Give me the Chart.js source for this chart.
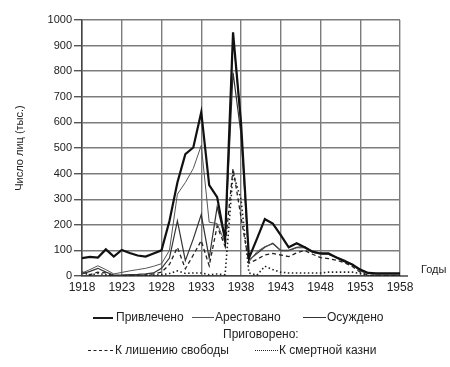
<!DOCTYPE html>
<html>
<head>
<meta charset="utf-8">
<script src="https://cdn.jsdelivr.net/npm/chart.js@4/dist/chart.umd.min.js"></script>
<style>
  html, body { margin: 0; padding: 0; background: #fff; }
  #wrap { position: relative; width: 450px; height: 367px; font-family: "Liberation Sans", Arial, sans-serif; color: #222; }
  #chart { position: absolute; left: 0; top: 0; }
  .lbl { position: absolute; font-size: 12px; line-height: 14px; white-space: nowrap; }
  .smp { position: absolute; height: 0; }
</style>
</head>
<body>
<div id="wrap">
  <canvas id="chart" width="450" height="367"></canvas>
  <div class="lbl" style="left:421px; top:262px; font-size:11px;">Годы</div>

  <div class="smp" style="left:93px; top:317px; width:20px; border-top:2px solid #1a1a1a;"></div>
  <div class="lbl" style="left:116px; top:310px;">Привлечено</div>
  <div class="smp" style="left:192px; top:317px; width:22px; border-top:1px solid #555;"></div>
  <div class="lbl" style="left:215px; top:310px;">Арестовано</div>
  <div class="smp" style="left:303px; top:317px; width:23px; border-top:1px solid #333;"></div>
  <div class="lbl" style="left:327px; top:310px;">Осуждено</div>

  <div class="lbl" style="left:223px; top:327px;">Приговорено:</div>

  <div class="smp" style="left:88px; top:350px; width:25px; border-top:1px dashed #222;"></div>
  <div class="lbl" style="left:115px; top:343px;">К лишению свободы</div>
  <div class="smp" style="left:255px; top:350px; width:23px; border-top:1.5px dotted #222;"></div>
  <div class="lbl" style="left:279px; top:343px;">К смертной казни</div>
</div>
<script>
// Years on the x axis
const years = [1918, 1919, 1920, 1921, 1922, 1923, 1924, 1925, 1926, 1927,
               1928, 1929, 1930, 1931, 1932, 1933, 1934, 1935, 1936, 1937,
               1938, 1939, 1940, 1941, 1942, 1943, 1944, 1945, 1946, 1947,
               1948, 1949, 1950, 1951, 1952, 1953, 1954, 1955, 1956, 1957, 1958];
const xTickYears = [1918, 1923, 1928, 1933, 1938, 1943, 1948, 1953, 1958];
const yTickValues = [0, 100, 200, 300, 400, 500, 600, 700, 800, 900, 1000];

// thousands of persons
const privlecheno = [70, 75, 72, 104, 76, 102, 90, 80, 76, 88,
                     100, 215, 365, 476, 502, 640, 355, 308, 140, 952,
                     600, 70, 145, 222, 205, 160, 112, 128, 112, 95,
                     88, 88, 72, 58, 45, 25, 12, 10, 10, 10, 10];
const arestovano = [12, 25, 40, 25, 8, 14, 20, 25, 30, 38,
                    48, 100, 320, 365, 420, 510, 210, 205, 130, 940,
                    590, 55, 95, 115, 125, 98, 98, 110, 110, 92,
                    85, 84, 72, 60, 42, 20, 10, 8, 8, 8, 8];
const osuzhdeno = [8, 18, 30, 15, 4, 4, 5, 6, 8, 12,
                   30, 70, 215, 60, 145, 240, 70, 270, 145, 795,
                   555, 62, 88, 112, 128, 100, 100, 112, 115, 95,
                   88, 85, 74, 62, 45, 20, 10, 8, 8, 8, 8];
const lishenieSvobody = [15, 5, 15, 12, 0, 2, 3, 4, 5, 8,
                         15, 45, 112, 28, 82, 138, 40, 195, 115, 420,
                         230, 50, 65, 82, 88, 82, 76, 90, 100, 85,
                         72, 68, 62, 52, 37, 15, 3, 2, 1, 1, 1];
const smertnayaKazn = [15, 3, 10, 5, 1, 1, 2, 2, 2, 3,
                       5, 10, 20, 10, 12, 12, 5, 8, 5, 400,
                       300, 12, 3, 38, 25, 15, 12, 12, 12, 12,
                       12, 15, 15, 15, 15, 10, 2, 1, 1, 1, 1];

function pts(values) {
    return years.map((y, i) => ({ x: y, y: values[i] }));
}

// small extension of the x axis line past the plot, as in the original
const axisTail = {
    id: 'axisTail',
    afterDraw(chart) {
        const { ctx, chartArea } = chart;
        ctx.save();
        ctx.strokeStyle = '#444';
        ctx.lineWidth = 1.5;
        ctx.beginPath();
        ctx.moveTo(chartArea.right, chartArea.bottom);
        ctx.lineTo(chartArea.right + 8, chartArea.bottom);
        ctx.stroke();
        ctx.restore();
    }
};

const gridColor = '#7c7c7c';

new Chart(document.getElementById('chart').getContext('2d'), {
    type: 'line',
    data: {
        datasets: [
            { label: 'Привлечено', data: pts(privlecheno), borderColor: '#111', borderWidth: 2.2 },
            { label: 'Арестовано', data: pts(arestovano), borderColor: '#555', borderWidth: 1 },
            { label: 'Осуждено', data: pts(osuzhdeno), borderColor: '#333', borderWidth: 1.2 },
            { label: 'К лишению свободы', data: pts(lishenieSvobody), borderColor: '#222', borderWidth: 1.3, borderDash: [4, 3] },
            { label: 'К смертной казни', data: pts(smertnayaKazn), borderColor: '#222', borderWidth: 1.6, borderDash: [1.5, 2.5] }
        ]
    },
    options: {
        responsive: false,
        animation: false,
        elements: {
            point: { radius: 0 },
            line: { tension: 0 }
        },
        layout: {
            padding: { left: 0, top: 20, right: 50, bottom: 71 }
        },
        plugins: {
            legend: { display: false },
            tooltip: { enabled: false }
        },
        scales: {
            x: {
                type: 'linear',
                min: 1918,
                max: 1958,
                afterBuildTicks: s => { s.ticks = xTickYears.map(v => ({ value: v })); },
                afterFit: s => { s.height = 20; },
                grid: { color: gridColor, lineWidth: 1.4, drawTicks: false },
                border: { color: '#444', width: 1.5 },
                ticks: {
                    padding: 4,
                    color: '#222',
                    font: { family: 'Liberation Sans', size: 12 },
                    callback: v => String(v)
                }
            },
            y: {
                min: 0,
                max: 1000,
                afterBuildTicks: s => { s.ticks = yTickValues.map(v => ({ value: v })); },
                afterFit: s => { s.width = 82; },
                grid: { color: gridColor, lineWidth: 1.4, tickLength: 8, tickColor: '#555' },
                border: { color: '#444', width: 1.5 },
                ticks: {
                    padding: 2,
                    color: '#222',
                    font: { family: 'Liberation Sans', size: 11 },
                    callback: v => String(v)
                },
                title: {
                    display: true,
                    text: 'Число лиц (тыс.)',
                    color: '#222',
                    font: { family: 'Liberation Sans', size: 11 },
                    padding: { top: 13, bottom: 0 }
                }
            }
        }
    },
    plugins: [axisTail]
});
</script>
</body>
</html>
